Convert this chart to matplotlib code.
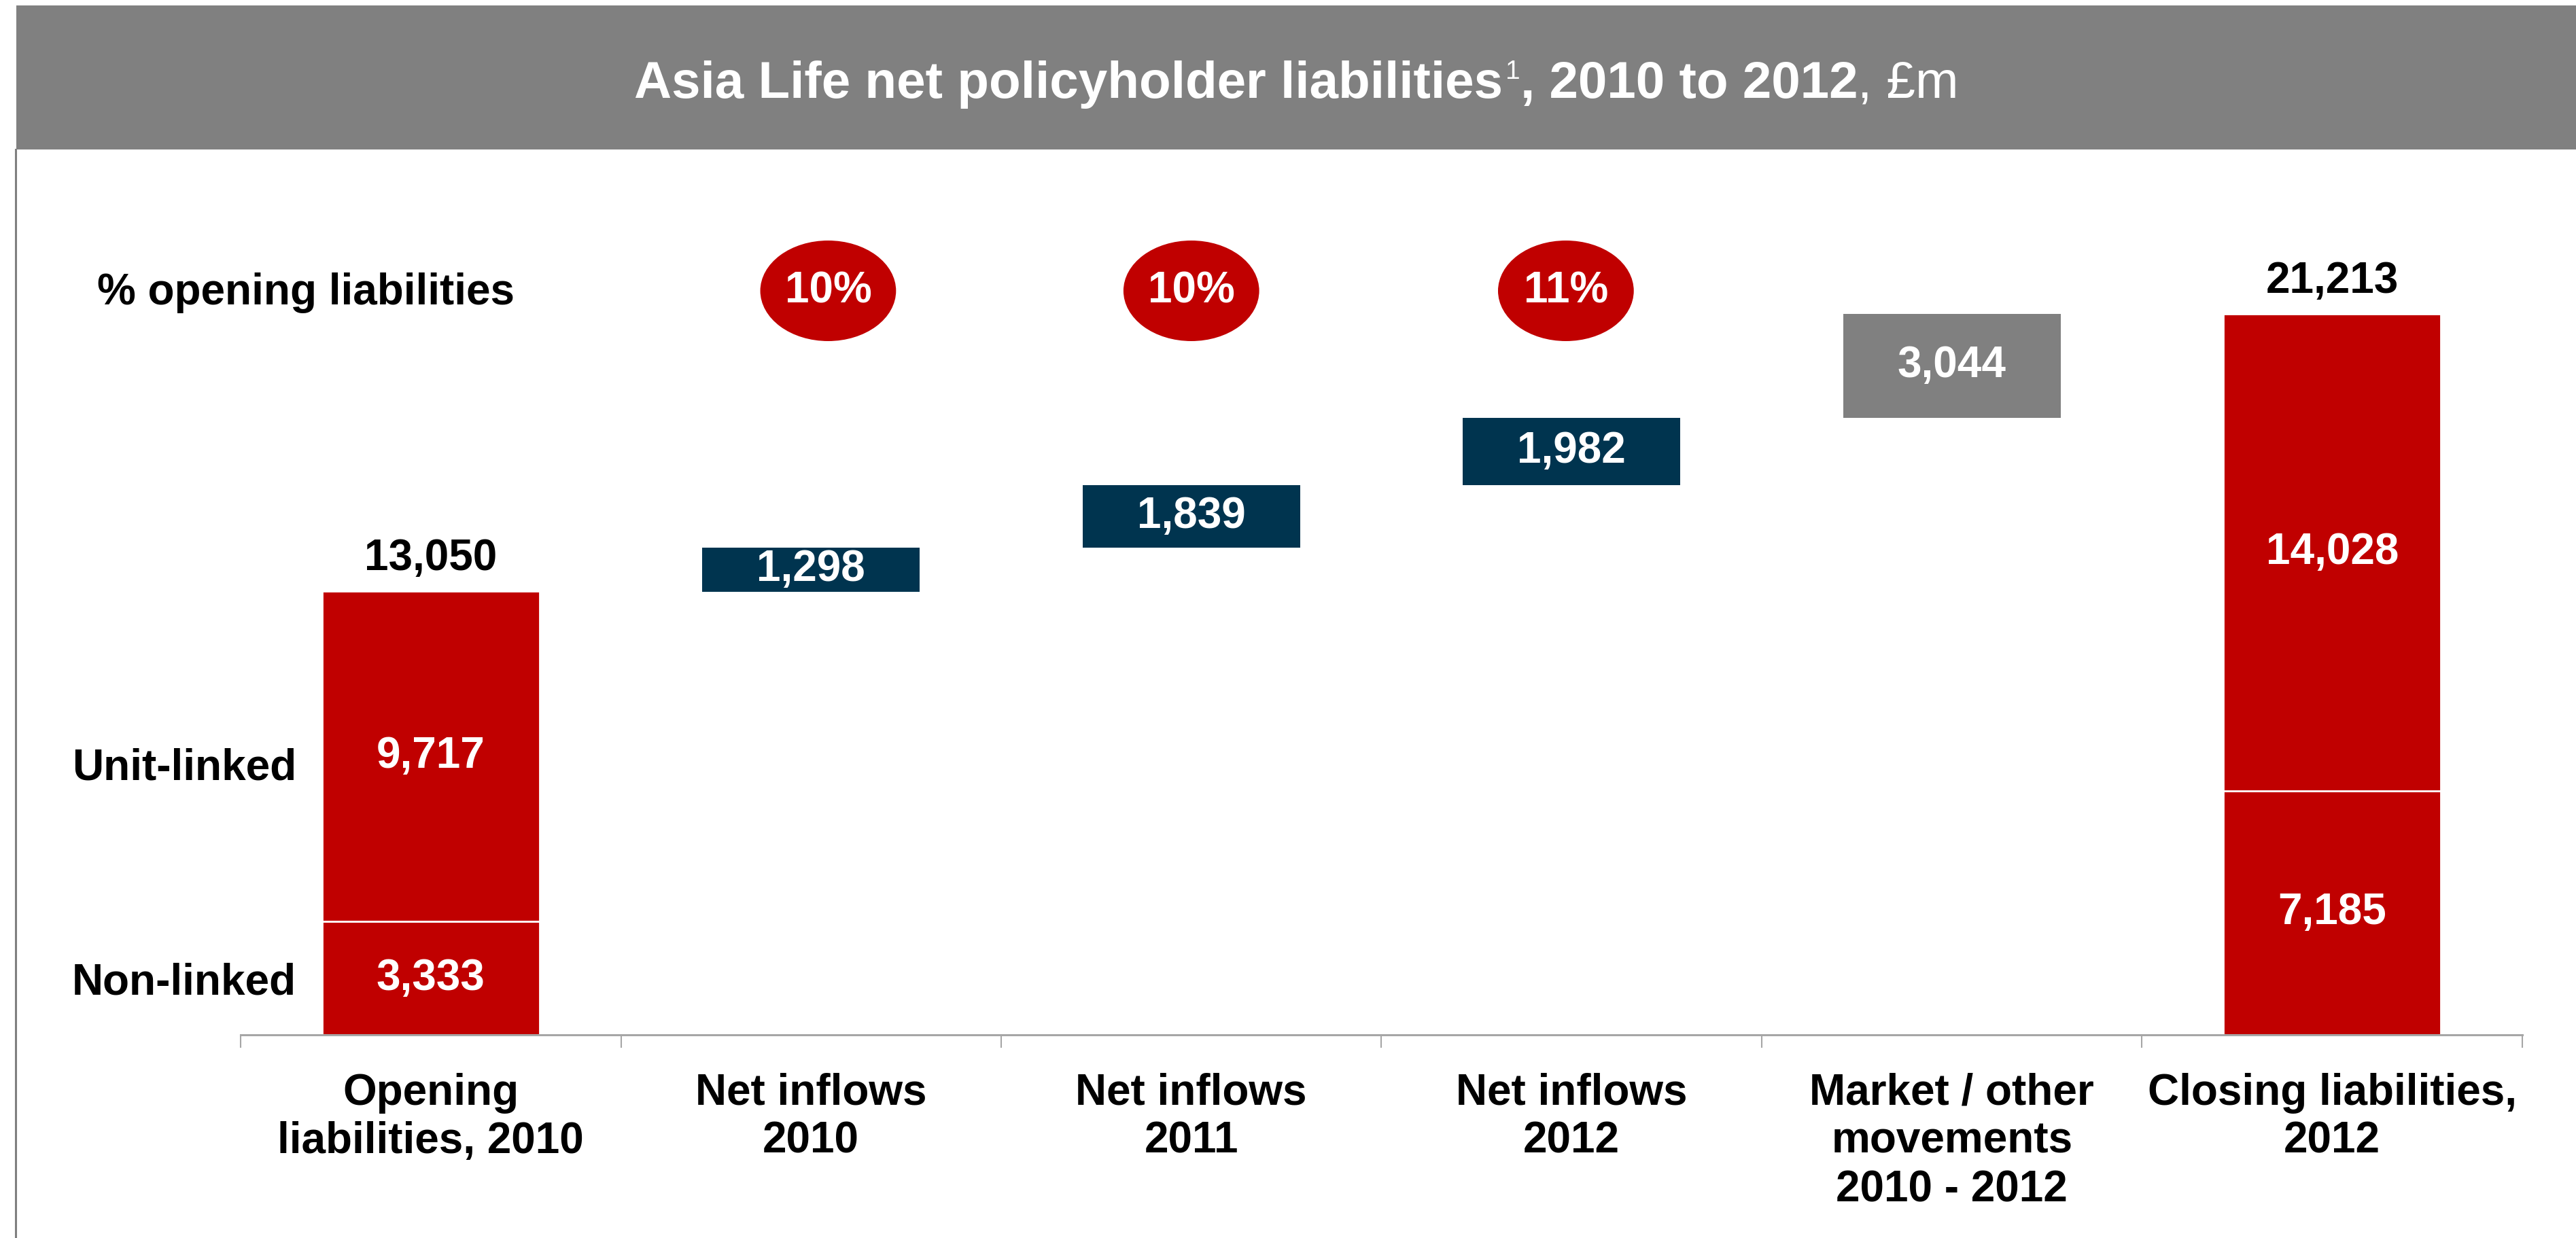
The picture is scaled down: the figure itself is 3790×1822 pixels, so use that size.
import numpy as np
import matplotlib
matplotlib.use("Agg")
from matplotlib import pyplot as plt
from matplotlib.patches import Ellipse, Rectangle
from matplotlib.lines import Line2D

plt.rcParams['font.family'] = ['Liberation Sans', 'DejaVu Sans']

# data, £m
categories = ["Opening\nliabilities, 2010", "Net inflows\n2010", "Net inflows\n2011",
              "Net inflows\n2012", "Market / other\nmovements\n2010 - 2012",
              "Closing liabilities,\n2012"]
opening_non_linked = 3333
opening_unit_linked = 9717
movements = [1298, 1839, 1982, 3044]
closing_non_linked = 7185
closing_unit_linked = 14028
pct_opening = ["10%", "10%", "11%"]

RED = "#C00000"
NAVY = "#00344F"
GREY = "#808080"
FS = 46

fig = plt.figure(figsize=(37.9, 18.22), dpi=100)
W, H = 3790, 1822

# title bar and left frame line (kept behind everything else)
fig.add_artist(Rectangle((24 / W, 1 - 220 / H), 1, 212 / H, transform=fig.transFigure,
                         facecolor=GREY, edgecolor="none", zorder=-2))
fig.add_artist(Line2D([23 / W, 23 / W], [0, 1 - 220 / H], transform=fig.transFigure,
                      color=GREY, lw=2.2, zorder=-2))

ax = fig.add_axes([354 / W, 1 - 1523 / H, (3711 - 354) / W, (1523 - 222) / H])
ax.set_xlim(-0.5, 5.5)
ax.set_ylim(0, 26020)
ax.patch.set_alpha(0)

bw = 0.572
opening = opening_non_linked + opening_unit_linked

# opening and closing stacks: non-linked at the bottom, unit-linked on top
for x, nl, ul in [(0, opening_non_linked, opening_unit_linked),
                  (5, closing_non_linked, closing_unit_linked)]:
    ax.bar(x, nl, bw, color=RED, edgecolor="white", lw=2)
    ax.bar(x, ul, bw, bottom=nl, color=RED, edgecolor="white", lw=2)
    ax.text(x, nl / 2, f"{nl:,}", ha="center", va="center",
            color="white", fontsize=FS, weight="bold")
    ax.text(x, nl + ul / 2, f"{ul:,}", ha="center", va="center",
            color="white", fontsize=FS, weight="bold")
    ax.annotate(f"{nl + ul:,}", (x, nl + ul), xytext=(0, 13), textcoords="offset points",
                ha="center", va="bottom", fontsize=FS, weight="bold")

# floating movement boxes
bottoms = opening + np.concatenate([[0], np.cumsum(movements)[:-1]])
for i, (v, b) in enumerate(zip(movements, bottoms)):
    c = GREY if i == 3 else NAVY
    ax.bar(i + 1, v, bw, bottom=b, color=c, edgecolor="none")
    ax.text(i + 1, b + v / 2, f"{v:,}", ha="center", va="center", color="white",
            fontsize=FS, weight="bold")

# % of opening liabilities bubbles
for x, p in zip([1.045, 2.0, 2.985], pct_opening):
    ax.add_patch(Ellipse((x, 21900), 0.357, 2960, facecolor=RED, edgecolor="none"))
    ax.text(x, 21900, p, ha="center", va="center", color="white", fontsize=FS, weight="bold")

# axis styling
for s in ["top", "left", "right"]:
    ax.spines[s].set_visible(False)
ax.spines["bottom"].set_color("#A6A6A6")
ax.spines["bottom"].set_linewidth(2.2)
ax.set_yticks([])
ax.set_xticks(range(len(categories)))
ax.set_xticklabels(categories, fontsize=FS, weight="bold", linespacing=1.24)
ax.tick_params(axis="x", which="major", length=0, pad=40)
ax.set_xticks(np.arange(-0.5, 6, 1), minor=True)
ax.tick_params(axis="x", which="minor", length=14, width=1.5, color="#A6A6A6")

# row labels
fig.text(143 / W, 1 - 431 / H, "% opening liabilities", fontsize=FS, weight="bold",
         ha="left", va="center")
fig.text(436 / W, 1 - 1130 / H, "Unit-linked", fontsize=FS, weight="bold",
         ha="right", va="center")
fig.text(436 / W, 1 - 1446 / H, "Non-linked", fontsize=FS, weight="bold",
         ha="right", va="center")

# title, built from pieces
t1 = fig.text(933 / W, 1 - 144 / H, "Asia Life net policyholder liabilities",
              fontsize=55, weight="bold", color="white", va="baseline")
t2 = ax.annotate("1", xy=(1, 0), xycoords=t1, xytext=(3, 26), textcoords="offset points",
                 fontsize=28, color="white", va="bottom")
t3 = ax.annotate(", 2010 to 2012", xy=(1, 0), xycoords=(t2, t1), fontsize=55,
                 weight="bold", color="white", va="bottom")
t4 = ax.annotate(", £m", xy=(1, 0), xycoords=(t3, t1), fontsize=55,
                 color="white", va="bottom")

fig.savefig("out.png", dpi=100)
